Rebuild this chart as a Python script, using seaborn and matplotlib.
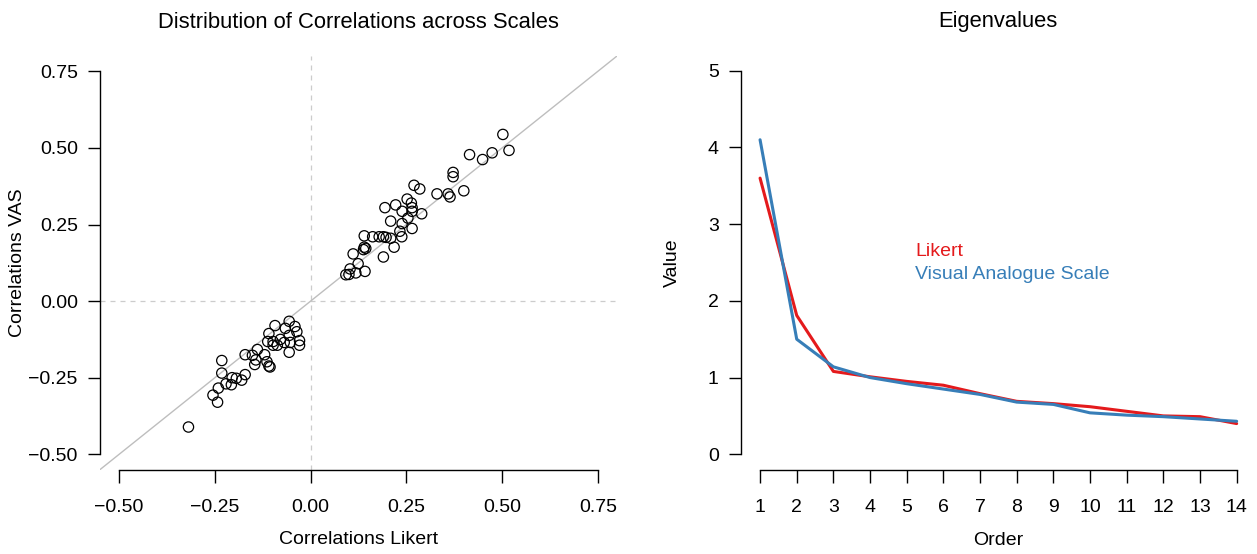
import matplotlib
matplotlib.use("Agg")
import matplotlib.pyplot as plt
import seaborn as sns
import pandas as pd
import numpy as np

# ---- data: correlations (Likert vs VAS) ----
corr_likert = [0.502, 0.518, 0.415, 0.449, 0.474, 0.372, 0.372, 0.400, 0.330, 0.359,
               0.364, 0.270, 0.285, 0.290, 0.252, 0.263, 0.265, 0.265, 0.222, 0.194,
               0.239, 0.254, 0.239, 0.209, 0.265, 0.233, 0.238, 0.218, 0.209, 0.197,
               0.190, 0.179, 0.162, 0.140, 0.190, 0.140, 0.138, 0.144, 0.111, 0.124,
               0.142, 0.118, 0.103, 0.100, 0.092,
               -0.056, -0.041, -0.036, -0.093, -0.066, -0.109, -0.056, -0.029, -0.029, -0.112,
               -0.098, -0.079, -0.069, -0.053, -0.087, -0.098, -0.056, -0.139, -0.171, -0.152,
               -0.120, -0.143, -0.146, -0.114, -0.109, -0.106, -0.232, -0.232, -0.171, -0.180,
               -0.194, -0.205, -0.207, -0.221, -0.241, -0.255, -0.243, -0.319]
corr_vas = [0.544, 0.492, 0.478, 0.462, 0.484, 0.420, 0.406, 0.360, 0.350, 0.350,
            0.340, 0.378, 0.366, 0.285, 0.333, 0.320, 0.305, 0.293, 0.314, 0.305,
            0.293, 0.271, 0.253, 0.261, 0.237, 0.228, 0.210, 0.176, 0.205, 0.208,
            0.210, 0.210, 0.210, 0.213, 0.144, 0.176, 0.168, 0.172, 0.154, 0.122,
            0.097, 0.092, 0.105, 0.087, 0.086,
            -0.066, -0.083, -0.100, -0.080, -0.089, -0.106, -0.112, -0.129, -0.144, -0.132,
            -0.132, -0.125, -0.135, -0.135, -0.144, -0.144, -0.167, -0.158, -0.175, -0.177,
            -0.175, -0.192, -0.207, -0.198, -0.212, -0.215, -0.194, -0.235, -0.240, -0.258,
            -0.252, -0.250, -0.273, -0.270, -0.284, -0.307, -0.330, -0.411]

# ---- data: eigenvalues ----
order = list(range(1, 15))
eig_likert = [3.60, 1.81, 1.08, 1.01, 0.95, 0.90, 0.79, 0.69, 0.66, 0.62, 0.56, 0.50, 0.49, 0.40]
eig_vas = [4.10, 1.50, 1.14, 1.00, 0.92, 0.85, 0.78, 0.68, 0.65, 0.54, 0.51, 0.49, 0.46, 0.43]

corr_ticks = [-0.50, -0.25, 0.00, 0.25, 0.50, 0.75]
corr_ticklabels = ["\u22120.50", "\u22120.25", "0.00", "0.25", "0.50", "0.75"]
eig_yticks = [0, 1, 2, 3, 4, 5]

RED = "#E41A1C"
BLUE = "#377EB8"

sns.set_style("ticks")
plt.rcParams['font.family'] = ['Liberation Sans', 'DejaVu Sans']
plt.rcParams['axes.edgecolor'] = 'black'
plt.rcParams['xtick.color'] = 'black'
plt.rcParams['ytick.color'] = 'black'
plt.rcParams['text.color'] = 'black'
plt.rcParams['axes.labelcolor'] = 'black'
plt.rcParams['axes.titlecolor'] = 'black'

FS = 14
TFS = 15.8

fig = plt.figure(figsize=(12.57, 5.54), dpi=100)
W, H = 1257, 554

def add_ax(l, r, t, b):
    return fig.add_axes([l / W, (H - b) / H, (r - l) / W, (b - t) / H])

ax1 = add_ax(100, 617, 56, 469.6)
ax2 = add_ax(741, 1255.7, 55.4, 469.6)

# ---- left panel ----
df1 = pd.DataFrame({"likert": corr_likert, "vas": corr_vas})
ax1.axvline(0, color="#CCCCCC", lw=0.9, ls=(0, (4, 4)), zorder=1)
ax1.axhline(0, color="#CCCCCC", lw=0.9, ls=(0, (4, 4)), zorder=1)
ax1.axline((0, 0), slope=1, color="#BEBEBE", lw=1.0, zorder=1)
sns.scatterplot(data=df1, x="likert", y="vas", ax=ax1, s=55, marker="o",
                facecolor="none", edgecolor="black", linewidth=0.9, zorder=3)
ax1.set_xlim(-0.55, 0.80)
ax1.set_ylim(-0.55, 0.80)
ax1.set_xticks(corr_ticks)
ax1.set_xticklabels(corr_ticklabels)
ax1.set_yticks(corr_ticks)
ax1.set_yticklabels(corr_ticklabels)
ax1.spines['left'].set_bounds(-0.5, 0.75)
ax1.spines['bottom'].set_bounds(-0.5, 0.75)
ax1.set_xlabel("Correlations Likert", fontsize=FS, va="center")
ax1.set_ylabel("Correlations VAS", fontsize=FS, va="center")
ax1.xaxis.set_label_coords(0.5, -0.170)
ax1.yaxis.set_label_coords(-0.159, 0.5)
ax1.set_title("Distribution of Correlations across Scales", fontsize=TFS,
              y=1.082, va="center", pad=0)

# ---- right panel ----
df2 = pd.DataFrame({"order": order + order,
                    "value": eig_likert + eig_vas,
                    "scale": ["Likert"] * 14 + ["Visual Analogue Scale"] * 14})
sns.lineplot(data=df2, x="order", y="value", hue="scale", ax=ax2,
             palette={"Likert": RED, "Visual Analogue Scale": BLUE},
             linewidth=2.2, legend=False)
ax2.set_xlim(0.48, 14.52)
ax2.set_ylim(-0.2, 5.2)
ax2.set_xticks(order)
ax2.set_yticks(eig_yticks)
ax2.spines['left'].set_bounds(0, 5)
ax2.spines['bottom'].set_bounds(1, 14)
ax2.set_xlabel("Order", fontsize=FS, va="center")
ax2.set_ylabel("Value", fontsize=FS, va="center")
ax2.xaxis.set_label_coords(0.5, -0.172)
ax2.yaxis.set_label_coords(-0.134, 0.5)
ax2.set_title("Eigenvalues", fontsize=TFS, y=1.082, va="center", pad=0)
ax2.text(5.23, 2.64, "Likert", color=RED, fontsize=FS, ha="left", va="center")
ax2.text(5.23, 2.34, "Visual Analogue Scale", color=BLUE, fontsize=FS, ha="left", va="center")

for ax in (ax1, ax2):
    sns.despine(ax=ax)
    ax.tick_params(axis="both", length=9, width=1.0, labelsize=FS, labelcolor="black")
    ax.tick_params(axis="x", pad=12)
    ax.tick_params(axis="y", pad=7)
    for sp in ("left", "bottom"):
        ax.spines[sp].set_linewidth(1.0)
    ax.grid(False)

fig.savefig("out.png", dpi=100)
